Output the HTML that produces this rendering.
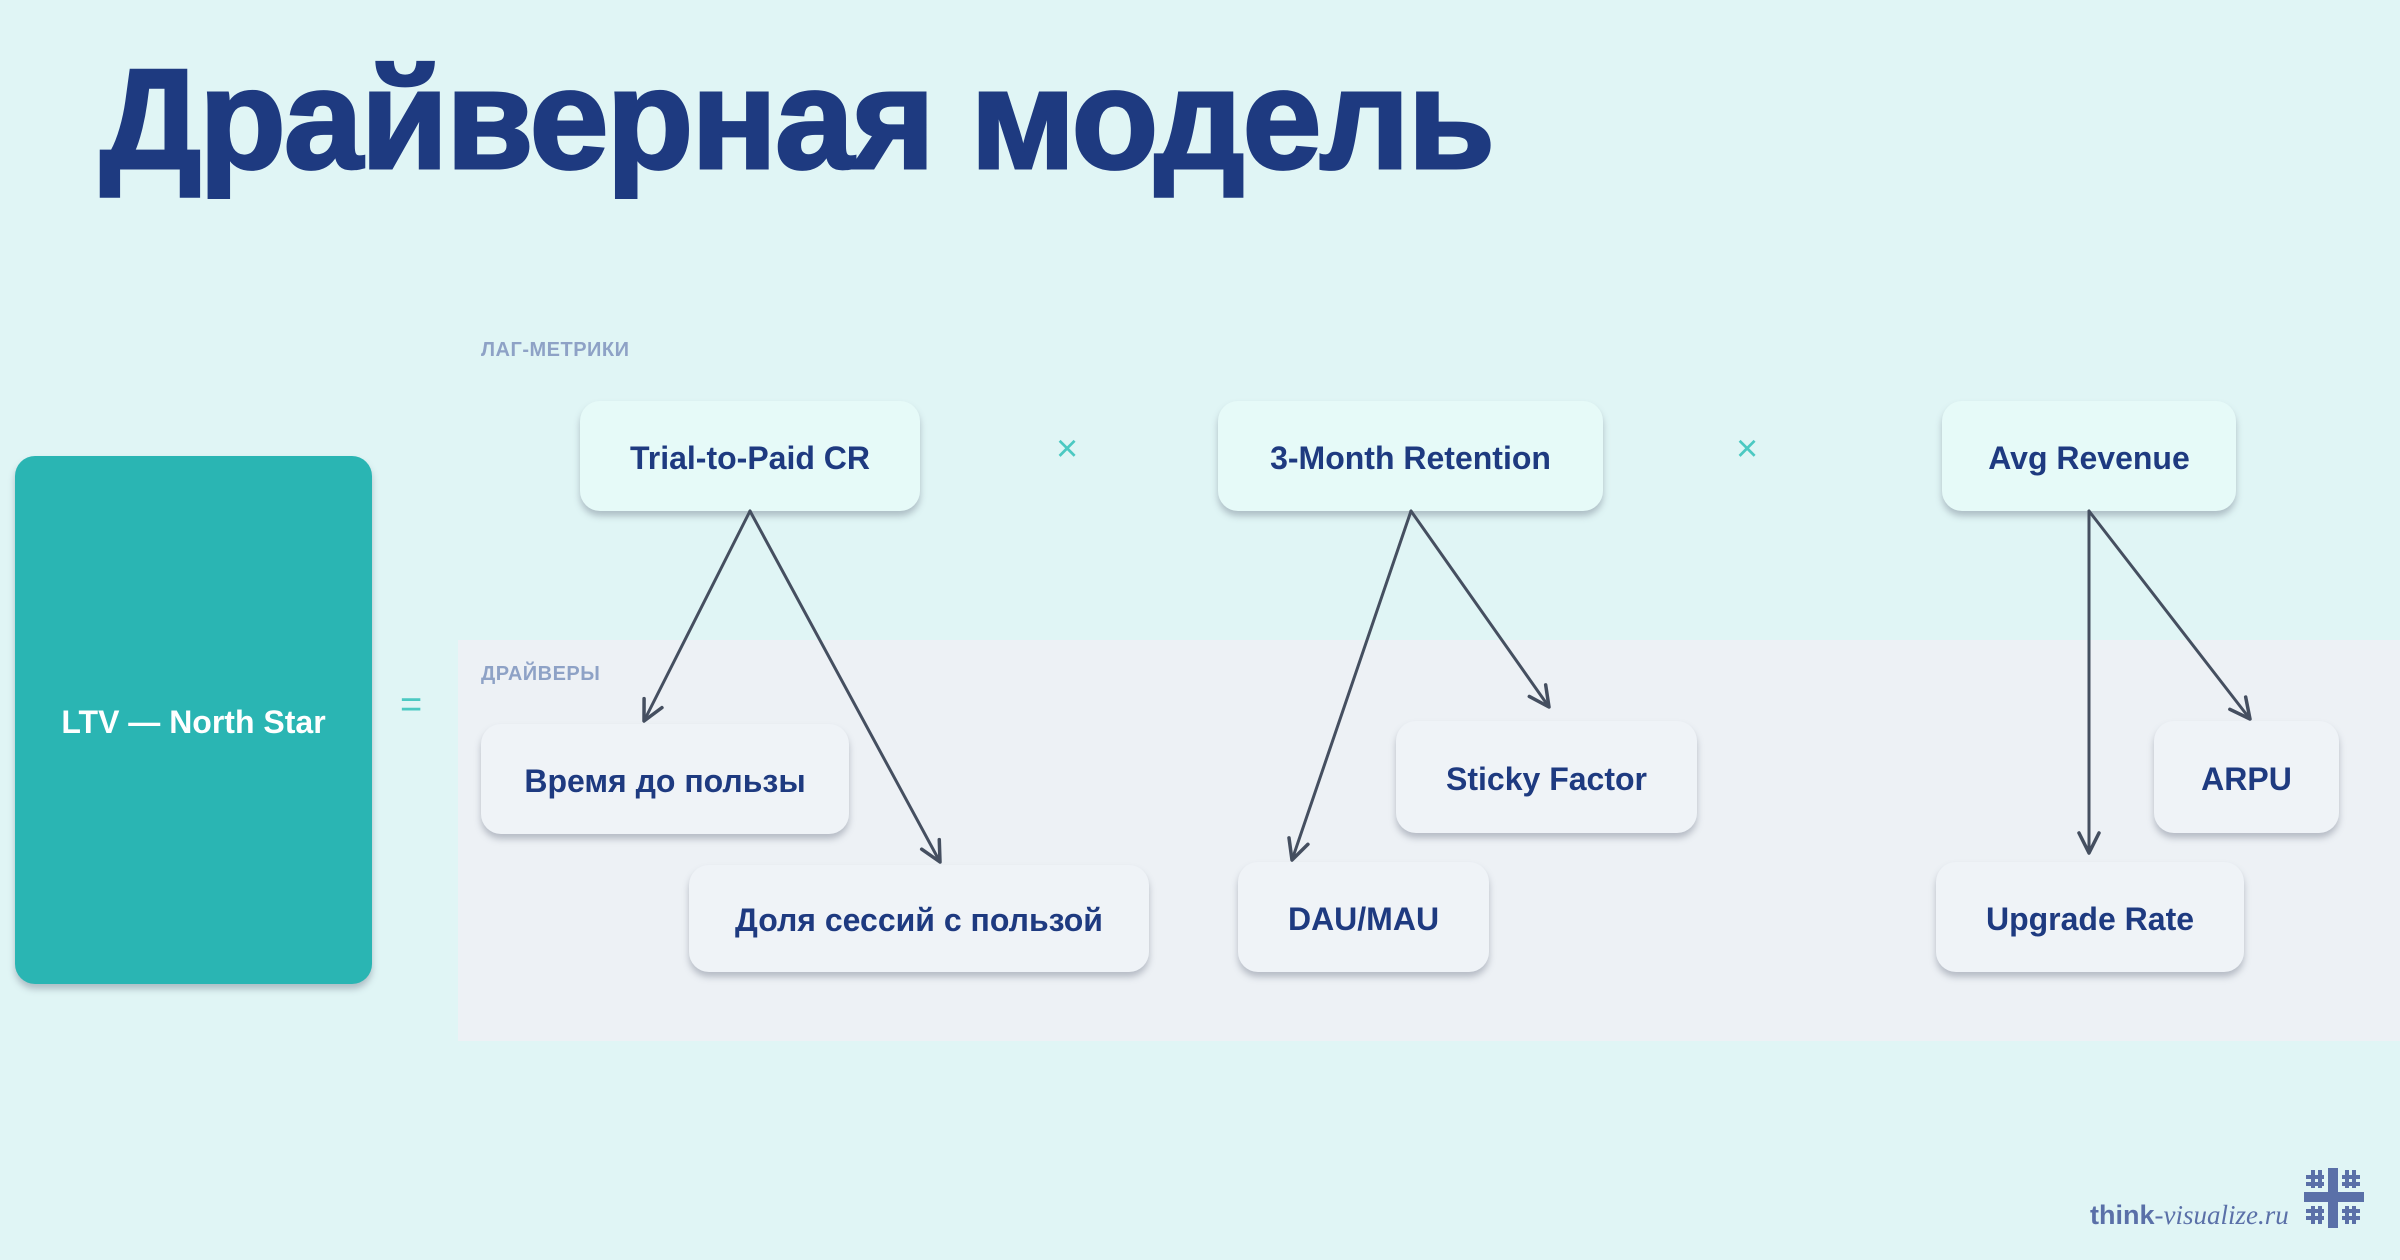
<!DOCTYPE html>
<html><head><meta charset="utf-8"><style>
*{margin:0;padding:0;box-sizing:border-box}
body{width:2400px;height:1260px;background:#e0f5f5;position:relative;overflow:hidden;font-family:"Liberation Sans","Noto Sans CJK SC",sans-serif}
.t{position:absolute;left:100px;top:38px;font-size:142px;font-weight:900;color:#1e3a80;letter-spacing:-2px;white-space:nowrap;-webkit-text-stroke:3px #1e3a80}
.band{position:absolute;left:458px;top:640px;width:1942px;height:401px;background:#edf1f5}
.lbl{position:absolute;font-size:20px;color:#8ea2c6;letter-spacing:0.5px;font-weight:bold}
.b{position:absolute;display:flex;align-items:center;justify-content:center;border-radius:20px;font-weight:bold;font-size:32px;color:#1e3a80;box-shadow:0 5px 7px rgba(80,90,110,.35);white-space:nowrap;padding-top:4px}
.top{background:#e6faf8}
.drv{background:#eff3f7}
.op{position:absolute;color:#4cc9c2;font-size:38px;font-weight:100}
</style></head><body>
<div class="t">Драйверная модель</div>
<div class="band"></div>
<div class="lbl" style="left:481px;top:339px">ЛАГ-МЕТРИКИ</div>
<div class="lbl" style="left:481px;top:663px">ДРАЙВЕРЫ</div>
<div class="b" style="left:15px;top:456px;width:357px;height:528px;background:#2ab5b3;color:#fff;font-size:32px">LTV — North Star</div>
<div class="op" style="left:400px;top:684px">=</div>
<div class="op" style="left:1056px;top:428px">×</div>
<div class="op" style="left:1736px;top:428px">×</div>
<div class="b top" style="left:580px;top:401px;width:340px;height:110px">Trial-to-Paid CR</div>
<div class="b top" style="left:1218px;top:401px;width:385px;height:110px">3-Month Retention</div>
<div class="b top" style="left:1942px;top:401px;width:294px;height:110px">Avg Revenue</div>
<div class="b drv" style="left:481px;top:724px;width:368px;height:110px">Время до пользы</div>
<div class="b drv" style="left:689px;top:865px;width:460px;height:107px">Доля сессий с пользой</div>
<div class="b drv" style="left:1396px;top:721px;width:301px;height:112px">Sticky Factor</div>
<div class="b drv" style="left:1238px;top:862px;width:251px;height:110px">DAU/MAU</div>
<div class="b drv" style="left:2154px;top:721px;width:185px;height:112px">ARPU</div>
<div class="b drv" style="left:1936px;top:862px;width:308px;height:110px">Upgrade Rate</div>
<svg width="2400" height="1260" style="position:absolute;left:0;top:0" fill="none" stroke="#454f60" stroke-width="3" stroke-linecap="round" stroke-linejoin="round">
<defs><marker id="a" viewBox="0 0 24 24" refX="22" refY="12" markerWidth="24" markerHeight="24" markerUnits="userSpaceOnUse" orient="auto"><path d="M2 2 L22 12 L2 22" fill="none" stroke="#454f60" stroke-width="3.5"/></marker></defs>
<path d="M750 511 L644 721" marker-end="url(#a)"/>
<path d="M750 511 L940 862" marker-end="url(#a)"/>
<path d="M1411 511 L1292 860" marker-end="url(#a)"/>
<path d="M1411 511 L1549 707" marker-end="url(#a)"/>
<path d="M2089 511 L2089 853" marker-end="url(#a)"/>
<path d="M2089 511 L2250 719" marker-end="url(#a)"/>
</svg>
<div style="position:absolute;left:2090px;top:1200px;font-size:27px;color:#5a70a8;white-space:nowrap"><b style="font-family:'Liberation Sans',sans-serif">think</b><i style="font-family:'Liberation Serif',serif">-visualize.ru</i></div>
<svg width="64" height="64" style="position:absolute;left:2302px;top:1166px" fill="#5a70a8">
<rect x="26" y="2" width="10" height="60"/><rect x="2" y="26" width="60" height="10"/>
<rect x="9" y="4" width="4" height="18"/><rect x="16" y="4" width="4" height="18"/><rect x="4" y="9" width="18" height="4"/><rect x="4" y="16" width="18" height="4"/>
<rect x="43" y="4" width="4" height="18"/><rect x="50" y="4" width="4" height="18"/><rect x="40" y="9" width="18" height="4"/><rect x="40" y="16" width="18" height="4"/>
<rect x="9" y="40" width="4" height="18"/><rect x="16" y="40" width="4" height="18"/><rect x="4" y="43" width="18" height="4"/><rect x="4" y="50" width="18" height="4"/>
<rect x="43" y="40" width="4" height="18"/><rect x="50" y="40" width="4" height="18"/><rect x="40" y="43" width="18" height="4"/><rect x="40" y="50" width="18" height="4"/>
</svg>
</body></html>
